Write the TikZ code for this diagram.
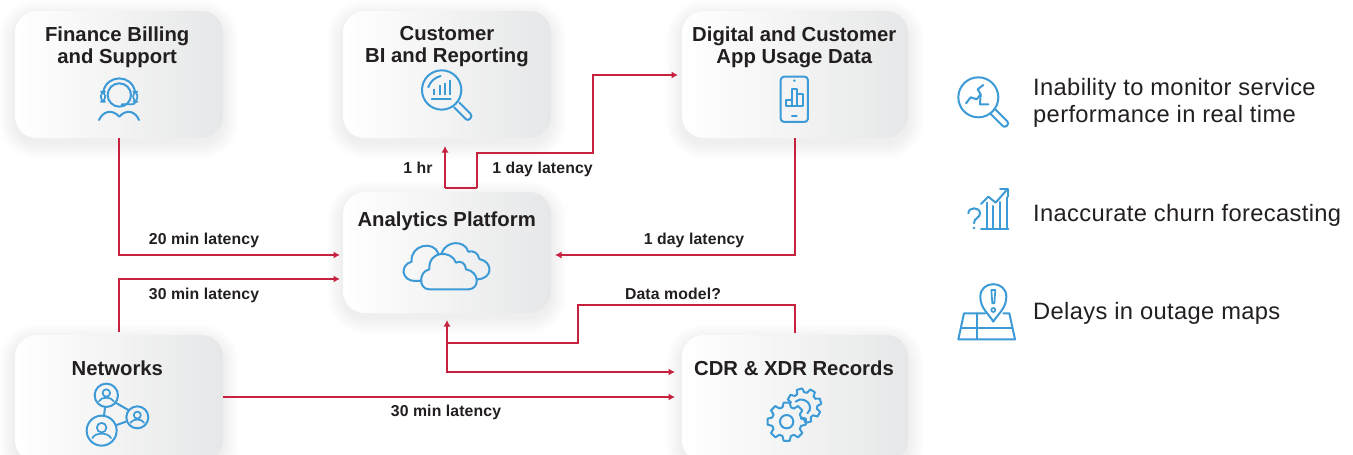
\documentclass[tikz,border=0pt]{standalone}
\usepackage{fontspec}
\setmainfont{Liberation Sans}
\newfontfamily\bodyfont{Liberation Sans}[LetterSpace=1.5]
\newfontfamily\labelfont{Liberation Sans}[LetterSpace=0.8]
\usetikzlibrary{arrows.meta,calc}
\definecolor{ink}{HTML}{231F20}
\definecolor{linkred}{HTML}{C6213F}
\definecolor{iconblue}{HTML}{3C9AD6}
\definecolor{cardgray}{HTML}{E6E7E8}
\tikzset{
  card/.style={rounded corners=22pt,left color=white,right color=cardgray,draw=none,inner sep=0pt},
  cardtitle/.style={font=\fontsize{20.3}{22}\selectfont\bfseries,text=ink,align=center,inner sep=0pt},
  linklabel/.style={font=\fontsize{15.8}{17}\selectfont\labelfont\bfseries,text=ink,inner sep=0pt,anchor=base},
  sidetext/.style={font=\fontsize{23.7}{27}\selectfont\bodyfont,text=ink,align=left,inner sep=0pt},
  link/.style={draw=linkred,line width=2.4pt,-{Latex[length=6.5pt,width=7pt]}},
  plainlink/.style={draw=linkred,line width=2.4pt},
  icon/.style={draw=iconblue,line width=2pt,line cap=round,line join=round},
  iconthin/.style={draw=iconblue,line width=1.7pt,line cap=round,line join=round},
}
\newcommand{\cardbox}[5]{%
  \foreach \i in {1,...,16}{%
    \pgfmathsetmacro\rr{22+\i}%
    \fill[black,opacity=.004,rounded corners=\rr pt] (#2-\i,#3-\i+5) rectangle (#4+\i,#5+\i+5);
  }%
  \node[card,minimum width={(#4-#2)*1pt},minimum height={(#5-#3)*1pt}] (#1) at ({(#2+#4)/2},{(#3+#5)/2}) {};
}
% person in a circle
\newcommand{\personicon}[3]{%
  \draw[icon] (#1,#2) circle[radius=#3];
  \draw[iconthin] (#1,#2-0.2*#3) circle[radius=0.32*#3];
  \draw[iconthin] (#1-0.62*#3,#2+0.5*#3) .. controls (#1-0.45*#3,#2+0.1*#3) and (#1+0.45*#3,#2+0.1*#3) .. (#1+0.62*#3,#2+0.5*#3);
}
% gear tooth ring
\newcommand{\gearteeth}[6]{% cx cy root tip teeth-list step
  \foreach \a in {#5}{%
    \draw[icon,shift={(#1,#2)}] (\a-#6*.36:#3) -- (\a-#6*.2:#4) -- (\a+#6*.2:#4) -- (\a+#6*.36:#3) arc[start angle=\a+#6*.36,end angle=\a+#6*.64,radius=#3];
  }%
}
\begin{document}
\begin{tikzpicture}[x=1pt,y=-1pt]
\useasboundingbox (0,0) rectangle (1353,455);
\fill[white] (0,0) rectangle (1353,455);

% cards
\cardbox{fin}{15}{11}{223}{138}
\cardbox{bi}{343}{11}{551}{138}
\cardbox{dig}{682}{11}{908}{138}
\cardbox{ana}{343}{192}{551}{313}
\cardbox{net}{15}{335}{223}{462}
\cardbox{cdr}{682}{335}{908}{462}

% titles
\node[cardtitle,anchor=center] (tfin) at (117.2,47) {Finance Billing\\and Support};
\node[cardtitle,anchor=center] (tbi) at (447,47) {Customer\\BI and Reporting};
\node[cardtitle,anchor=center] (tdig) at (794.3,47) {Digital and Customer\\App Usage Data};
\node[cardtitle,anchor=base] (tana) at (446.7,226) {Analytics Platform};
\node[cardtitle,anchor=base] (tnet) at (117.3,375) {Networks};
\node[cardtitle,anchor=base] (tcdr) at (794,375) {CDR \& XDR Records};

% connector end points
\coordinate (anaA) at (340,255);
\coordinate (anaB) at (340,279);
\coordinate (anaC) at (555,255);
\coordinate (anaD) at (447,320);
\coordinate (biIn) at (445,146);
\coordinate (anaTop) at (445,188);
\coordinate (anaTopB) at (477,188);
\coordinate (digIn) at (678,75);
\coordinate (cdrA) at (675,372);
\coordinate (cdrB) at (675,397);
\coordinate (junc) at (447,343);

\draw[link] (fin.south) |- (anaA);
\draw[link] ([yshift=3pt]net.north) |- (anaB);
\draw[link] (net.east |- cdrB) -- (cdrB);
\draw[link] (anaTop) -- (biIn);
\draw[plainlink] (anaTop) -- (anaTopB);
\draw[link] (anaTopB) -- (477,153) -- (593,153) -- (593,75) -- (digIn);
\draw[link] (dig.south) |- (anaC);
\draw[link] ([yshift=2pt]cdr.north) -- (795,305) -- (578,305) -- (578,343) -- (junc) -- (anaD);
\draw[link] (junc) |- (cdrA);

% connector labels
\node[linklabel] (l1) at (204,244) {20 min latency};
\node[linklabel] (l2) at (204,299) {30 min latency};
\node[linklabel] (l3) at (446,416) {30 min latency};
\node[linklabel] (l4) at (418,173) {1 hr};
\node[linklabel] (l5) at (542.5,173) {1 day latency};
\node[linklabel] (l6) at (694,244) {1 day latency};
\node[linklabel] (l7) at (673,299) {Data model?};

% side text
\node[sidetext,anchor=west] (s1) at (1033,103) {Inability to monitor service\\performance in real time};
\node[sidetext,anchor=base west] (s2) at (1033,221) {Inaccurate churn forecasting};
\node[sidetext,anchor=base west] (s3) at (1033,319) {Delays in outage maps};

% headset icon
\begin{scope}[shift={(90,70)},scale=0.3333]
\draw[icon] (40,65) .. controls (50,12) and (126,12) .. (135,65);
\draw[icon] (88,75) circle[radius=35];
\draw[iconthin,rounded corners=4pt] (33,65) rectangle (45,95);
\draw[iconthin,rounded corners=4pt] (130,65) rectangle (142,95);
\draw[iconthin] (138,95) .. controls (136,102) and (128,104) .. (120,103) -- (95,103);
\draw[icon] (27,150) .. controls (38,125) and (65,115) .. (88,140) .. controls (110,115) and (137,125) .. (147,150);
\end{scope}

% magnifier with bars
\begin{scope}[shift={(340,0)},scale=0.3333]
\draw[icon] (305,270) circle[radius=59];
\draw[icon] (342,322) -- (378,358) .. controls (386,365) and (400,350) .. (392,342) -- (358,308);
\draw[icon] (265,262) .. controls (270,245) and (285,232) .. (302,228);
\draw[icon,line width=2.3pt,line cap=butt] (283,286) -- (283,268);
\draw[icon,line width=2.3pt,line cap=butt] (299,286) -- (299,255);
\draw[icon,line width=2.3pt,line cap=butt] (315,286) -- (315,248);
\draw[icon,line width=2.3pt,line cap=butt] (330,286) -- (330,240);
\draw[iconthin] (275,296) -- (332,296);
\end{scope}

% phone
\begin{scope}[shift={(670,0)},scale=0.3333]
\draw[icon,rounded corners=3.5pt] (332,230) rectangle (414,366);
\fill[iconblue] (373,242) circle[radius=4];
\draw[icon] (366,348) -- (380,348);
\draw[icon] (348,317) rectangle (365,300);
\draw[icon] (365,317) rectangle (382,268);
\draw[icon] (382,317) rectangle (398,283);
\end{scope}

% clouds
\begin{scope}[shift={(340,190)},scale=0.3333]
\draw[icon] (245,273) -- (225,273) .. controls (185,273) and (178,225) .. (215,215) .. controls (210,165) and (280,150) .. (295,190);
\draw[icon] (305,190) .. controls (318,150) and (375,150) .. (385,185) .. controls (400,180) and (415,190) .. (418,207) .. controls (460,215) and (460,268) .. (410,268);
\draw[icon] (268,298) -- (385,298) .. controls (420,298) and (420,245) .. (378,238) .. controls (378,220) and (360,210) .. (348,218) .. controls (335,180) and (265,180) .. (268,238) .. controls (235,245) and (235,298) .. (268,298);
\end{scope}

% network
\begin{scope}[shift={(0,320)},scale=0.3333]
\personicon{319}{226}{35}
\personicon{412}{292}{33}
\personicon{305}{332}{45}
\draw[icon] (315,262) -- (312,288);
\draw[icon] (345,247) -- (385,270);
\draw[icon] (350,315) -- (378,305);
\end{scope}

% gears
\begin{scope}[shift={(760,385)},scale=0.3333]
\gearteeth{80}{110}{45}{58}{0,45,...,315}{45}
\draw[icon] (80,110) circle[radius=20];
\gearteeth{132}{62}{40}{52}{-150,-105,-60,-15,30,75}{45}
\draw[icon] (107,50) .. controls (120,38) and (145,42) .. (150,65) .. controls (152,72) and (148,80) .. (142,85);
\end{scope}

% right lens icon
\begin{scope}[shift={(940,60)},scale=0.3333]
\draw[icon] (115,112) circle[radius=60];
\draw[icon] (150,160) -- (188,198) .. controls (196,206) and (210,192) .. (202,184) -- (164,146);
\draw[icon] (130,75) -- (113,88) -- (122,103) -- (120,133) -- (145,133);
\draw[icon] (78,130) -- (92,112) -- (110,118) -- (122,103);
\end{scope}

% chart icon
\begin{scope}[shift={(955,180)},scale=0.3333]
\draw[icon] (78,146) -- (160,146);
\draw[icon] (95,144) -- (95,68);
\draw[icon] (115,144) -- (115,78);
\draw[icon] (135,144) -- (135,66);
\draw[icon] (155,144) -- (155,52);
\draw[icon] (78,72) -- (100,50) -- (122,68) -- (155,30);
\draw[icon] (135,28) -- (158,28) -- (158,50);
\draw[icon] (40,100) .. controls (40,80) and (75,80) .. (75,100) .. controls (75,115) and (57,112) .. (57,130);
\fill[iconblue] (57,144) circle[radius=4];
\end{scope}

% map icon
\begin{scope}[shift={(955,280)},scale=0.3333]
\draw[icon] (90,100) -- (27,100) -- (10,178) -- (180,178) -- (163,100) -- (145,100);
\draw[icon] (18,145) -- (172,145);
\draw[icon] (67,100) -- (67,178);
\draw[icon] (115,125) .. controls (100,100) and (76,85) .. (76,50) .. controls (76,0) and (154,0) .. (154,50) .. controls (154,85) and (130,100) .. (115,125) -- cycle;
\draw[iconthin] (109,30) -- (121,30) -- (118,70) -- (112,70) -- cycle;
\draw[iconthin] (115,90) circle[radius=6];
\end{scope}
\end{tikzpicture}
\end{document}
